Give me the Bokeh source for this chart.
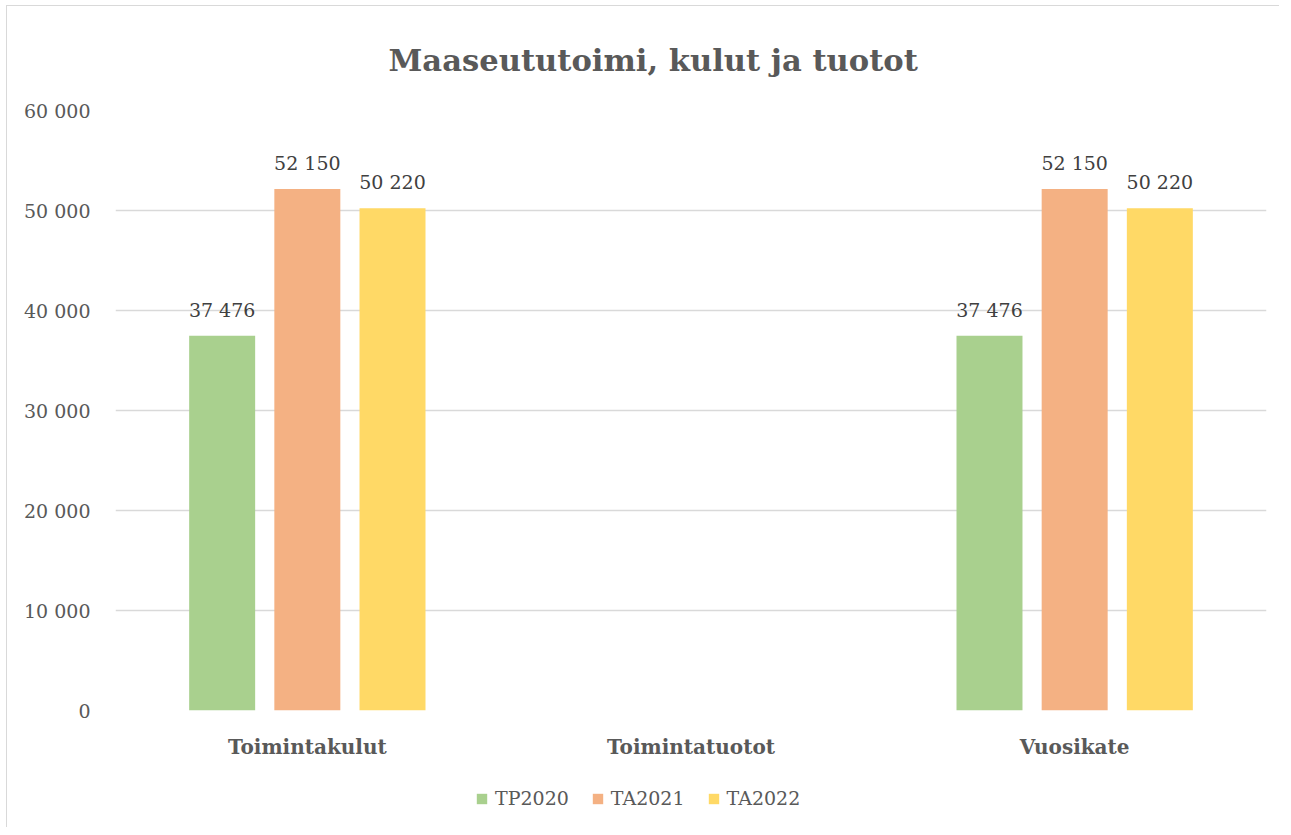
from bokeh.plotting import figure
from bokeh.layouts import column
from bokeh.models import (FactorRange, Range1d, FixedTicker, CustomJSTickFormatter,
                          ColumnDataSource, LabelSet, Legend, LegendItem)
from bokeh.core.properties import value
from bokeh.transform import dodge
from bokeh.embed import file_html
from bokeh.resources import INLINE

categories = ["Toimintakulut", "Toimintatuotot", "Vuosikate"]
series = ["TP2020", "TA2021", "TA2022"]
tp2020 = [37476, 0, 37476]
ta2021 = [52150, 0, 52150]
ta2022 = [50220, 0, 50220]
colors = ["#A9D08E", "#F4B183", "#FFD966"]
y_ticks = [0, 10000, 20000, 30000, 40000, 50000, 60000]

FONT = "DejaVu Serif"
TXT = "#595959"
BORDER = "1px solid #d9d9d9"

p = figure(frame_width=1150, frame_height=599, x_range=FactorRange(*categories),
           y_range=Range1d(0, 60000), output_backend="svg", toolbar_location=None,
           min_border_left=108, min_border_right=14, min_border_top=104,
           min_border_bottom=60)
p.styles = {"border-top": BORDER, "border-left": BORDER,
            "margin-left": "6px", "margin-top": "5px"}
p.outline_line_color = None

p.title.text = "Maaseututoimi, kulut ja tuotot"
p.title.align = "left"
p.title.offset = 273
p.title.text_font = FONT
p.title.text_font_size = "30.6px"
p.title.text_font_style = "bold"
p.title.text_color = TXT
p.title.standoff = 66

src = ColumnDataSource(dict(cat=categories, TP2020=tp2020, TA2021=ta2021, TA2022=ta2022))
offsets = [-0.222, 0.0, 0.222]
for s, off, c in zip(series, offsets, colors):
    p.vbar(x=dodge("cat", off, range=p.x_range), top=s, width=0.172, source=src,
           fill_color=c, line_color=None)
    lab_cats = [cat for cat, v in zip(categories, src.data[s]) if v > 0]
    lab_vals = [v for v in src.data[s] if v > 0]
    lsrc = ColumnDataSource(dict(cat=lab_cats, val=lab_vals,
                                 txt=[f"{v:,}".replace(",", " ") for v in lab_vals]))
    ls = LabelSet(x=dodge("cat", off, range=p.x_range), y="val", text="txt", source=lsrc,
                  text_align="center", text_baseline="bottom", y_offset=15,
                  text_font=value(FONT), text_font_size=value("19px"),
                  text_color="#404040")
    p.add_layout(ls)

p.yaxis.ticker = FixedTicker(ticks=y_ticks)
p.yaxis.formatter = CustomJSTickFormatter(
    code='return tick.toString().replace(/\\B(?=(\\d{3})+(?!\\d))/g, " ");')
p.yaxis.axis_line_color = None
p.yaxis.major_tick_line_color = None
p.yaxis.minor_tick_line_color = None
p.yaxis.major_label_text_font = FONT
p.yaxis.major_label_text_font_size = "19px"
p.yaxis.major_label_text_color = TXT
p.yaxis.major_label_standoff = 19

p.xaxis.axis_line_color = None
p.xaxis.major_tick_line_color = None
p.xaxis.minor_tick_line_color = None
p.xaxis.major_label_text_font = FONT
p.xaxis.major_label_text_font_size = "20px"
p.xaxis.major_label_text_font_style = "bold"
p.xaxis.major_label_text_color = TXT
p.xaxis.major_label_standoff = 18

p.xgrid.grid_line_color = None
p.ygrid.grid_line_color = "#d9d9d9"
p.ygrid.grid_line_width = 1.5

# legend strip below the chart (its bars are not drawn: categorical x on a numeric range)
lg = figure(frame_width=1270, frame_height=58, output_backend="svg", toolbar_location=None,
            min_border_left=0, min_border_right=0, min_border_top=0, min_border_bottom=0,
            x_range=Range1d(0, 1), y_range=Range1d(-2e6, -1e6))
lg.styles = {"border-left": BORDER, "margin-left": "6px"}
lg.axis.visible = False
lg.grid.visible = False
lg.outline_line_color = None
leg_r = [lg.vbar(x="cat", top=s, bottom=s, width=0.1, source=src, fill_color=c,
                 line_color=None)
         for s, c in zip(series, colors)]
legend = Legend(items=[LegendItem(label=s, renderers=[r]) for s, r in zip(series, leg_r)],
                orientation="horizontal", location=(468, 18))
legend.label_text_font = FONT
legend.label_text_font_size = "19px"
legend.label_text_color = TXT
legend.glyph_width = 13
legend.glyph_height = 13
legend.spacing = 22
legend.label_standoff = 7
legend.padding = 4
legend.margin = 0
legend.border_line_color = None
legend.background_fill_alpha = 0
lg.add_layout(legend, "center")

layout = column(p, lg, spacing=0)
open("out.html", "w").write(file_html(layout, INLINE))
